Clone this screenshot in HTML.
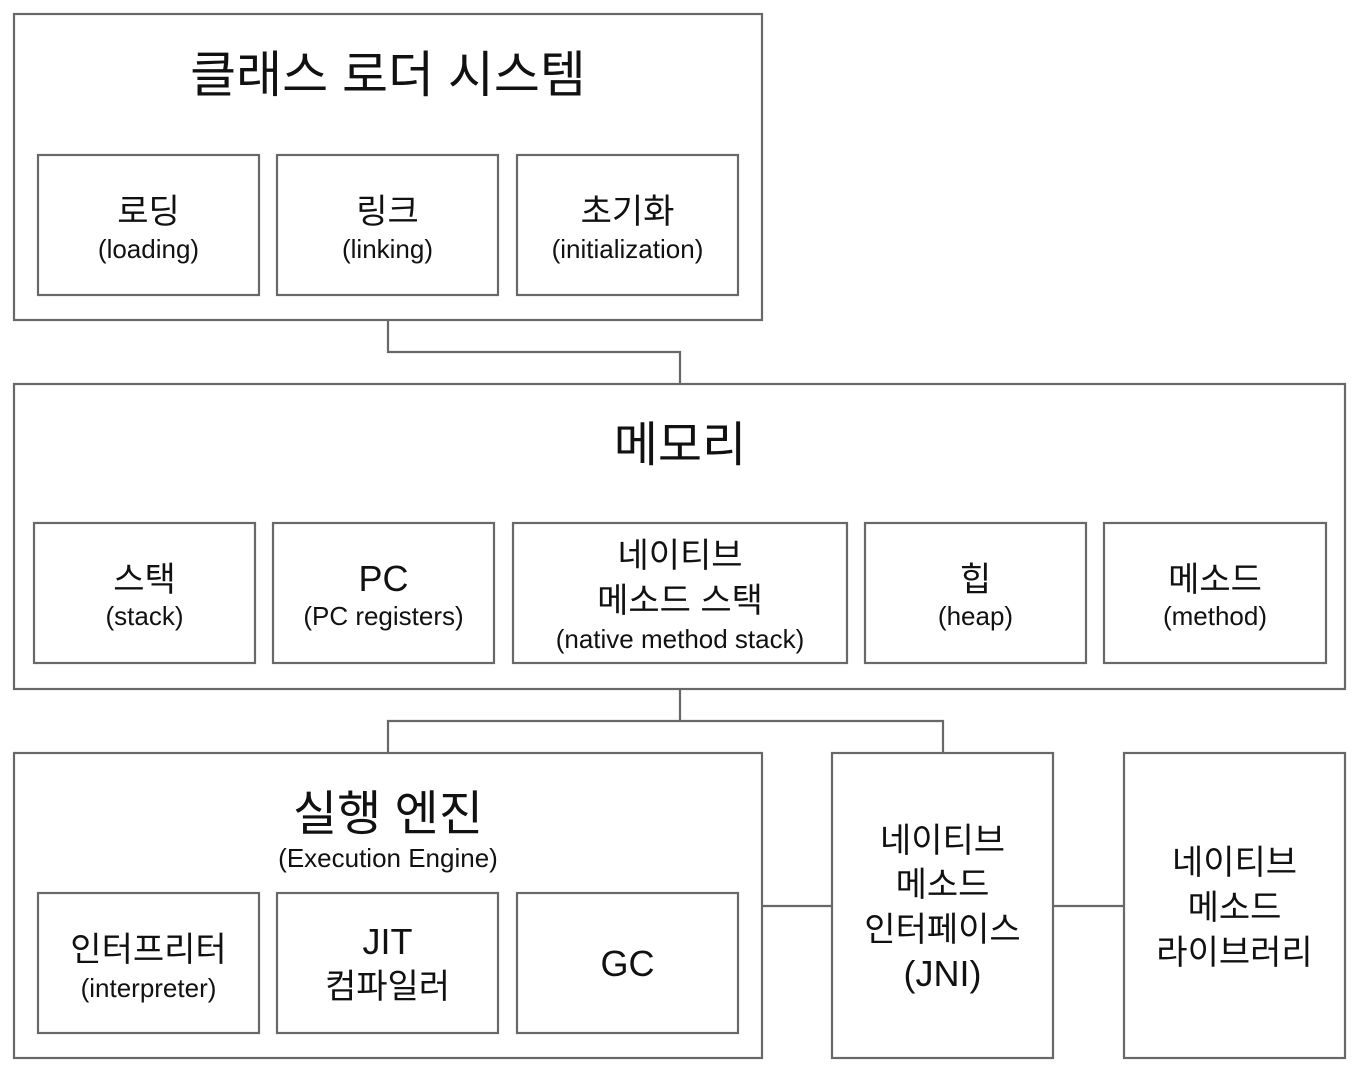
<!DOCTYPE html>
<html>
<head>
<meta charset="utf-8">
<style>
  html, body { margin: 0; padding: 0; background: #ffffff; }
  svg { display: block; }
  text { font-family: "Liberation Sans", "Noto Sans CJK KR", sans-serif; fill: #111; text-anchor: middle; }
</style>
</head>
<body>
<svg width="1358" height="1074" viewBox="0 0 1358 1074" xmlns="http://www.w3.org/2000/svg">
  <g fill="none" stroke="#686868" stroke-width="2.2">
    <!-- connectors -->
    <polyline points="388,320 388,352 680,352 680,384"/>
    <polyline points="680,689 680,721"/>
    <polyline points="388,753 388,721 943,721 943,753"/>
    <line x1="762" y1="906" x2="832" y2="906"/>
    <line x1="1053" y1="906" x2="1124" y2="906"/>

    <!-- class loader -->
    <rect x="14" y="14" width="748" height="306"/>
    <rect x="38" y="155" width="221" height="140"/>
    <rect x="277" y="155" width="221" height="140"/>
    <rect x="517" y="155" width="221" height="140"/>

    <!-- memory -->
    <rect x="14" y="384" width="1331" height="305"/>
    <rect x="34" y="523" width="221" height="140"/>
    <rect x="273" y="523" width="221" height="140"/>
    <rect x="513" y="523" width="334" height="140"/>
    <rect x="865" y="523" width="221" height="140"/>
    <rect x="1104" y="523" width="222" height="140"/>

    <!-- execution engine -->
    <rect x="14" y="753" width="748" height="305"/>
    <rect x="38" y="893" width="221" height="140"/>
    <rect x="277" y="893" width="221" height="140"/>
    <rect x="517" y="893" width="221" height="140"/>

    <!-- JNI & native library -->
    <rect x="832" y="753" width="221" height="305"/>
    <rect x="1124" y="753" width="221" height="305"/>
  </g>

  <!-- class loader text -->
  <text x="388" y="92" font-size="50">클래스 로더 시스템</text>
  <text x="148.5" y="223" font-size="34">로딩</text>
  <text x="148.5" y="258" font-size="26">(loading)</text>
  <text x="387.5" y="223" font-size="34">링크</text>
  <text x="387.5" y="258" font-size="26">(linking)</text>
  <text x="627.5" y="223" font-size="34">초기화</text>
  <text x="627.5" y="258" font-size="26">(initialization)</text>

  <!-- memory text -->
  <text x="680" y="461" font-size="48">메모리</text>
  <text x="144.5" y="591" font-size="34">스택</text>
  <text x="144.5" y="625" font-size="26">(stack)</text>
  <text x="383.5" y="591" font-size="36">PC</text>
  <text x="383.5" y="625" font-size="26">(PC registers)</text>
  <text x="680" y="567" font-size="34">네이티브</text>
  <text x="680" y="612" font-size="34">메소드 스택</text>
  <text x="680" y="648" font-size="26">(native method stack)</text>
  <text x="975.5" y="591" font-size="34">힙</text>
  <text x="975.5" y="625" font-size="26">(heap)</text>
  <text x="1215" y="591" font-size="34">메소드</text>
  <text x="1215" y="625" font-size="26">(method)</text>

  <!-- execution engine text -->
  <text x="388" y="830" font-size="48">실행 엔진</text>
  <text x="388" y="867" font-size="26">(Execution Engine)</text>
  <text x="148.5" y="961" font-size="34">인터프리터</text>
  <text x="148.5" y="997" font-size="26">(interpreter)</text>
  <text x="387.5" y="954" font-size="36">JIT</text>
  <text x="387.5" y="998" font-size="34">컴파일러</text>
  <text x="627.5" y="976" font-size="36">GC</text>

  <!-- JNI text -->
  <text x="942.5" y="852" font-size="34">네이티브</text>
  <text x="942.5" y="896" font-size="34">메소드</text>
  <text x="942.5" y="941" font-size="34">인터페이스</text>
  <text x="942.5" y="986" font-size="36">(JNI)</text>

  <!-- native library text -->
  <text x="1234.5" y="874" font-size="34">네이티브</text>
  <text x="1234.5" y="919" font-size="34">메소드</text>
  <text x="1234.5" y="964" font-size="34">라이브러리</text>
</svg>
</body>
</html>
